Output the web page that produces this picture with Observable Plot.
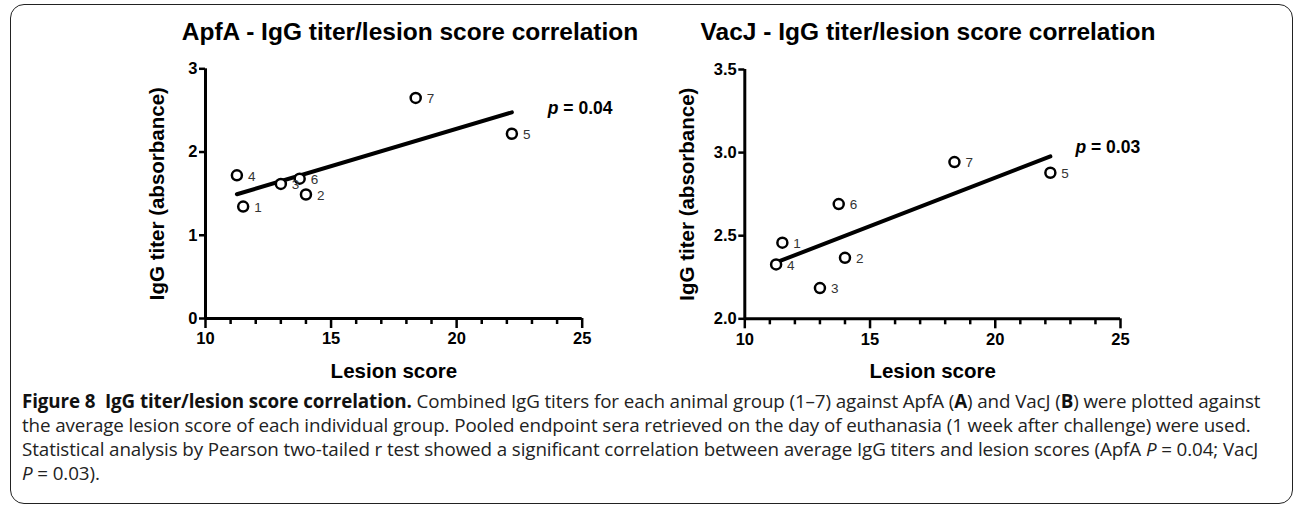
<!DOCTYPE html>
<html><head><meta charset="utf-8">
<script src="https://cdn.jsdelivr.net/npm/d3@7"></script>
<script src="https://cdn.jsdelivr.net/npm/@observablehq/plot@0.6"></script>
<style>
body{margin:0;background:#fff;}
#fig{position:relative;width:1295px;height:507px;overflow:hidden;}
#box{position:absolute;left:10px;top:4px;width:1283px;height:500px;border:1.3px solid #222;border-radius:14px;box-sizing:border-box;}
.title{position:absolute;top:18px;font:bold 24.5px "Liberation Sans",Arial,sans-serif;white-space:nowrap;transform:translateX(-50%);color:#000;}
.plot{position:absolute;top:0;}
#caption{position:absolute;left:22px;top:389px;font:18.8px "Open Sans",sans-serif;line-height:24px;white-space:nowrap;color:#222;letter-spacing:-0.1px;}
#caption b{color:#111;}
</style></head>
<body>
<div id="fig">
  <div id="box"></div>
  <div id="left" class="plot" style="left:0px"></div>
  <div id="right" class="plot" style="left:647px"></div>
  <div class="title" style="left:410px">ApfA - IgG titer/lesion score correlation</div>
  <div class="title" style="left:928px">VacJ - IgG titer/lesion score correlation</div>
  <div id="caption">
    <div><b>Figure 8&nbsp; IgG titer/lesion score correlation.</b> Combined IgG titers for each animal group (1–7) against ApfA (<b>A</b>) and VacJ (<b>B</b>) were plotted against</div>
    <div>the average lesion score of each individual group. Pooled endpoint sera retrieved on the day of euthanasia (1 week after challenge) were used.</div>
    <div>Statistical analysis by Pearson two-tailed r test showed a significant correlation between average IgG titers and lesion scores (ApfA <i>P</i> = 0.04; VacJ</div>
    <div><i>P</i> = 0.03).</div>
  </div>
</div>
<script>
// ---- data ----
const groups = ["1", "2", "3", "4", "5", "6", "7"];
const lesionScore = [11.5, 14.0, 13.0, 11.25, 22.2, 13.75, 18.37];
const apfaTiter = [1.345, 1.49, 1.617, 1.72, 2.22, 1.68, 2.65];
const vacjTiter = [2.458, 2.367, 2.185, 2.327, 2.879, 2.69, 2.943];
const xTicks = [10, 15, 20, 25];
const xMinorTicks = [11, 12, 13, 14, 16, 17, 18, 19, 21, 22, 23, 24];
const apfaYTicks = [0, 1, 2, 3];
const vacjYTicks = [2.0, 2.5, 3.0, 3.5];
const apfaP = "p = 0.04";
const vacjP = "p = 0.03";

function panel(titer, o) {
  const data = groups.map((g, i) => ({group: g, lesion: lesionScore[i], titer: titer[i]}));
  const svg = Plot.plot({
    width: o.width, height: 400,
    marginLeft: o.marginLeft, marginRight: o.marginRight,
    marginTop: o.marginTop, marginBottom: o.marginBottom,
    style: {fontFamily: "'Liberation Sans', Arial, sans-serif", fontSize: "16.5px", fontWeight: "bold", color: "#000", background: "transparent", overflow: "visible"},
    x: {domain: [10, 25]},
    y: {domain: o.yDomain},
    marks: [
      Plot.axisX(xMinorTicks, {tickSize: 6, strokeWidth: 2.5, tickFormat: () => "", label: null}),
      Plot.axisX(xTicks, {tickSize: 10, tickPadding: 4, strokeWidth: 2.5, label: null}),
      Plot.axisY(o.yTicks, {tickSize: 6, tickPadding: 2, strokeWidth: 2.5, label: null, tickFormat: o.yFormat}),
      Plot.ruleY([o.yDomain[0]], {strokeWidth: 3}),
      Plot.ruleX([10], {strokeWidth: 3}),
      Plot.linearRegressionY(data, {x: "lesion", y: "titer", ci: 0, strokeWidth: 4, stroke: "#000"}),
      Plot.dot(data, {x: "lesion", y: "titer", r: 5, stroke: "#000", strokeWidth: 2.5, fill: "white"}),
      Plot.text(data, {x: "lesion", y: "titer", text: "group", dx: 11, dy: 1, textAnchor: "start", fontSize: 13.5, fontWeight: "normal", fill: "#333"}),
      Plot.text([o.pLabel], {x: () => o.pX, y: () => o.pY, text: d => d, textAnchor: "start", fontSize: 17.5, fontWeight: "bold"}),
      Plot.text(["IgG titer (absorbance)"], {frameAnchor: "left", text: d => d, rotate: -90, textAnchor: "middle", lineAnchor: "middle", dx: o.ylabelDx, fontSize: 20.5, fontWeight: "bold"}),
      Plot.text(["Lesion score"], {frameAnchor: "bottom", text: d => d, lineAnchor: "middle", dy: 53, fontSize: 20.5, fontWeight: "bold"})
    ]
  });
  // italic p in the p-value label
  svg.querySelectorAll("text").forEach(t => {
    if (t.textContent === o.pLabel) {
      const rest = o.pLabel.slice(1);
      t.textContent = "";
      const a = document.createElementNS("http://www.w3.org/2000/svg", "tspan");
      a.setAttribute("font-style", "italic"); a.textContent = "p";
      const b = document.createElementNS("http://www.w3.org/2000/svg", "tspan");
      b.textContent = rest;
      t.appendChild(a); t.appendChild(b);
    }
  });
  return svg;
}

document.getElementById("left").appendChild(panel(apfaTiter, {
  width: 647, marginLeft: 205, marginRight: 65.3, marginTop: 68.3, marginBottom: 82,
  yDomain: [0, 3], yTicks: apfaYTicks, yFormat: d3.format("d"),
  pLabel: apfaP, pX: 23.63, pY: 2.53, ylabelDx: -48
}));
document.getElementById("right").appendChild(panel(vacjTiter, {
  width: 648, marginLeft: 97.3, marginRight: 175, marginTop: 69, marginBottom: 81.7,
  yDomain: [2.0, 3.5], yTicks: vacjYTicks, yFormat: d3.format(".1f"),
  pLabel: vacjP, pX: 23.2, pY: 3.03, ylabelDx: -57
}));
</script>
</body></html>
